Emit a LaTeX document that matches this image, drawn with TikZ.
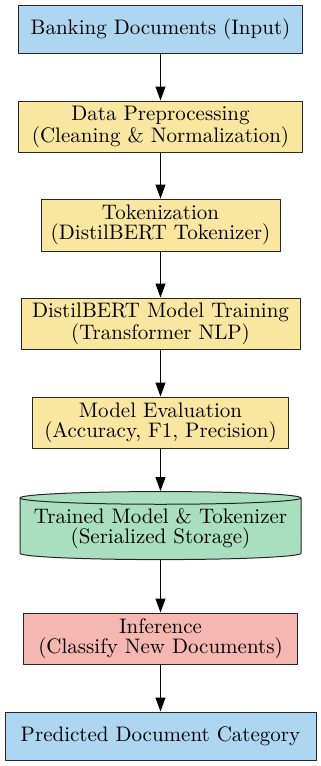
\documentclass[tikz,border=0pt]{standalone}
\usetikzlibrary{arrows.meta,shapes.geometric}
\definecolor{inblue}{HTML}{AED6F1}
\definecolor{stepyellow}{HTML}{F9E79F}
\definecolor{storegreen}{HTML}{A9DFBF}
\definecolor{infred}{HTML}{F5B7B1}
\begin{document}
\begin{tikzpicture}[x=0.5pt,y=-0.5pt,>={Triangle[length=7pt,width=5pt]},
	font=\fontsize{10.5}{10}\selectfont, line join=round,
	box/.style={draw=black!85,line width=0.5pt,align=center,inner sep=0pt},
	flow/.style={->,line width=0.5pt}]
	\useasboundingbox (0,0) rectangle (321,766);
	\def\cx{160.5} % common axis of the pipeline
	% pipeline stages, top to bottom
	\node[box,fill=inblue,minimum width=142pt,minimum height=24pt] (input) at (\cx,29) {Banking Documents (Input)};
	\node[box,fill=stepyellow,minimum width=142pt,minimum height=25.5pt] (prep) at (\cx,126.5) {Data Preprocessing\\(Cleaning \& Normalization)};
	\node[box,fill=stepyellow,minimum width=119.5pt,minimum height=26pt] (token) at (\cx,225) {Tokenization\\(DistilBERT Tokenizer)};
	\node[box,fill=stepyellow,minimum width=139.5pt,minimum height=25.5pt] (train) at (\cx,323.5) {DistilBERT Model Training\\(Transformer NLP)};
	\node[box,fill=stepyellow,minimum width=128pt,minimum height=25.5pt] (eval) at (\cx,422.5) {Model Evaluation\\(Accuracy, F1, Precision)};
	\node[box,cylinder,shape border rotate=90,aspect=0.05,fill=storegreen,minimum width=140.5pt,minimum height=34pt] (store) at (\cx,529) {Trained Model \& Tokenizer\\(Serialized Storage)};
	\node[box,fill=infred,minimum width=137pt,minimum height=25.5pt] (infer) at (\cx,638.5) {Inference\\(Classify New Documents)};
	\node[box,fill=inblue,minimum width=155.5pt,minimum height=24pt] (output) at (\cx,736) {Predicted Document Category};
	% connectors
	\draw[flow] (input) -- (prep);
	\draw[flow] (prep) -- (token);
	\draw[flow] (token) -- (train);
	\draw[flow] (train) -- (eval);
	\draw[flow] (eval) -- (store);
	\draw[flow] (store) -- (infer);
	\draw[flow] (infer) -- (output);
\end{tikzpicture}
\end{document}
